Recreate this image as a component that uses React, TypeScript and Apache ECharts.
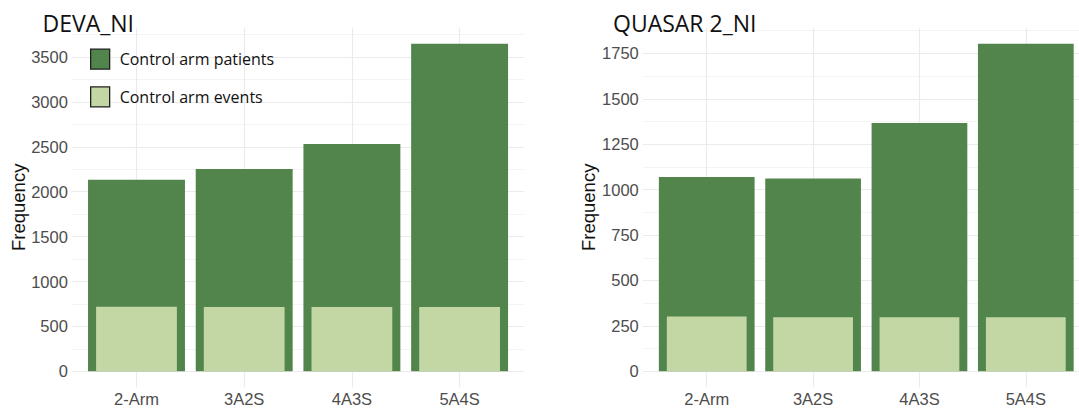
import React, { useEffect, useRef } from "react";
import * as echarts from "echarts";

const categories = ["2-Arm", "3A2S", "4A3S", "5A4S"];
const seriesNames = ["Control arm patients", "Control arm events"];
const devaPatients = [2134, 2253, 2531, 3648];
const devaEvents = [719, 716, 716, 716];
const quasarPatients = [1070, 1062, 1367, 1803];
const quasarEvents = [302, 297, 298, 298];
const panelTitles = ["DEVA_NI", "QUASAR 2_NI"];
const yIntervals = [500, 250];
const yAxisTitle = "Frequency";

const DARK = "#52854C";
const LIGHT = "#C3D7A4";
const GRID_MAJOR = "#EBEBEB";
const GRID_MINOR = "#F4F4F4";
const LABEL_COLOR = "#4D4D4D";

const TOP = 27.4;
const BOTTOM = 410 - 371.3;

export default function App() {
  const ref = useRef<HTMLDivElement>(null);

  useEffect(() => {
    if (!ref.current) return;
    const chart = echarts.init(ref.current, null, { renderer: "svg" });

    const panels = [
      { patients: devaPatients, events: devaEvents, center0: 136.5, step: 107.7, interval: yIntervals[0] },
      { patients: quasarPatients, events: quasarEvents, center0: 707.3, step: 107.5, interval: yIntervals[1] },
    ];

    const grids: any[] = [];
    const xAxes: any[] = [];
    const yAxes: any[] = [];
    const series: any[] = [];

    panels.forEach((p) => {
      const max = Math.max(...p.patients) * 1.05;
      const panelLeft = p.center0 - 0.6 * p.step;
      const bandLeft = p.center0 - 0.5 * p.step;
      const gA = grids.length;
      grids.push({ left: panelLeft, width: 4.2 * p.step, top: TOP, bottom: BOTTOM, containLabel: false });
      const gB = grids.length;
      grids.push({ left: bandLeft, width: 4 * p.step, top: TOP, bottom: BOTTOM, containLabel: false });

      // grid A: background gridlines and y labels
      xAxes.push({ gridIndex: gA, type: "category", data: categories, show: false });
      yAxes.push({
        gridIndex: gA,
        type: "value",
        min: 0,
        max,
        interval: p.interval,
        axisLine: { show: false },
        axisTick: { show: false },
        axisLabel: {
          show: true,
          showMaxLabel: false,
          formatter: (v: number) => String(v),
          color: LABEL_COLOR,
          fontSize: 16.5,
          fontFamily: "Liberation Sans, Arial, sans-serif",
          margin: 4,
        },
        splitLine: { show: true, showMaxLine: false, lineStyle: { color: GRID_MAJOR, width: 1.1 } },
        minorTick: { show: false, splitNumber: 2 },
        minorSplitLine: { show: true, lineStyle: { color: GRID_MINOR, width: 1 } },
      });

      // grid B: bars
      const xB1 = xAxes.length;
      xAxes.push({
        gridIndex: gB,
        type: "category",
        data: categories,
        axisLine: { show: false },
        axisTick: { show: true, alignWithLabel: true, length: 16, lineStyle: { color: GRID_MAJOR, width: 1.1 } },
        splitLine: { show: true, alignWithLabel: true, lineStyle: { color: GRID_MAJOR, width: 1.1 } },
        axisLabel: {
          color: LABEL_COLOR,
          fontSize: 16.5,
          fontFamily: "Liberation Sans, Arial, sans-serif",
          margin: 19,
        },
      });
      const xB2 = xAxes.length;
      xAxes.push({ gridIndex: gB, type: "category", data: categories, show: false, position: "bottom" });
      const yB = yAxes.length;
      yAxes.push({ gridIndex: gB, type: "value", min: 0, max, show: false, splitLine: { show: false } });

      series.push({
        name: seriesNames[0],
        type: "bar",
        xAxisIndex: xB1,
        yAxisIndex: yB,
        data: p.patients,
        barWidth: "90%",
        itemStyle: { color: DARK },
        z: 2,
      });
      series.push({
        name: seriesNames[1],
        type: "bar",
        xAxisIndex: xB2,
        yAxisIndex: yB,
        data: p.events,
        barWidth: "75%",
        itemStyle: { color: LIGHT },
        z: 3,
      });
    });

    const titleStyle = { fontFamily: "Open Sans", fontWeight: "normal", fontSize: 23, color: "#111" };
    const freqStyle = {
      text: yAxisTitle,
      align: "center",
      verticalAlign: "middle",
      fontSize: 18.5,
      fontFamily: "Liberation Sans, Arial, sans-serif",
      fill: "#111",
    };

    const option: any = {
      animation: false,
      backgroundColor: "#FFFFFF",
      title: [
        { text: panelTitles[0], left: 42.5, top: 11, padding: 0, textStyle: titleStyle },
        { text: panelTitles[1], left: 613, top: 11, padding: 0, textStyle: titleStyle },
      ],
      legend: {
        data: seriesNames,
        orient: "vertical",
        left: 90,
        top: 48.5,
        padding: 0,
        itemWidth: 19,
        itemHeight: 20,
        itemGap: 16.5,
        icon: "rect",
        selectedMode: false,
        itemStyle: { borderColor: "#1f1f1f", borderWidth: 1.3 },
        textStyle: { fontFamily: "Open Sans", fontSize: 16, color: "#111", padding: [0, 0, 0, 5] },
      },
      graphic: [
        { type: "text", x: 18, y: 207.3, rotation: Math.PI / 2, style: freqStyle },
        { type: "text", x: 588.8, y: 207.3, rotation: Math.PI / 2, style: freqStyle },
      ],
      grid: grids,
      xAxis: xAxes,
      yAxis: yAxes,
      series,
    };

    chart.setOption(option);
    return () => chart.dispose();
  }, []);

  return (
    <div
      ref={ref}
      style={{ position: "absolute", left: 0, top: 0, width: 1079, height: 410, background: "#fff" }}
    />
  );
}
